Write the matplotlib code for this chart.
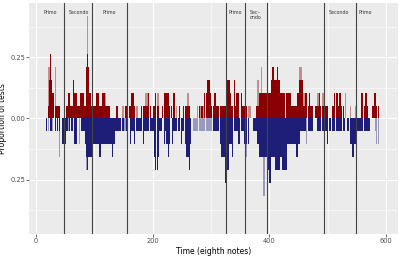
import matplotlib.pyplot as plt
import numpy as np

# number of tests per eighth-note position (out of 19), as runs: (start, end, count)
# a position takes the largest count of the runs covering it
primo_runs = [
    (19, 41, 1), (23, 27, 3), (25, 26, 5), (27, 31, 2),
    (51, 96, 1), (55, 59, 2), (63, 65, 3), (64, 70, 2), (75, 82, 2), (77, 78, 3),
    (86, 91, 4), (88, 89, 5), (91, 95, 2),
    (98, 127, 1), (104, 109, 2), (113, 118, 2), (138, 141, 1),
    (153, 164, 1), (164, 169, 2), (169, 172, 1), (180, 185, 1), (186, 198, 1),
    (192, 196, 2), (201, 212, 1), (204, 208, 2), (217, 233, 1), (218, 223, 2),
    (224, 228, 2), (235, 239, 2), (245, 248, 1), (252, 264, 1),
    (280, 282, 1), (284, 287, 1), (289, 300, 2), (293, 299, 3),
    (300, 323, 1), (302, 304, 2), (306, 309, 2),
    (323, 343, 1), (326, 334, 2), (327, 333, 3), (340, 341, 3),
    (343, 349, 2), (350, 354, 2), (354, 363, 1),
    (377, 383, 1), (383, 403, 2), (403, 410, 3), (405, 409, 4),
    (410, 420, 2), (411, 418, 3), (414, 416, 4), (420, 428, 2), (429, 437, 2),
    (437, 448, 1), (448, 454, 2), (452, 458, 3),
    (458, 475, 1), (461, 465, 2), (468, 471, 2),
    (479, 494, 1), (485, 487, 2), (494, 503, 1),
    (508, 528, 1), (512, 518, 2), (520, 524, 2),
    (558, 569, 1), (558, 561, 2), (565, 568, 2), (577, 588, 1), (580, 584, 2),
]
primo_faint_runs = [
    (20, 24, 4), (32, 35, 4), (88, 90, 8), (118, 121, 2),
    (146, 152, 1), (172, 175, 1), (188, 192, 2), (208, 212, 2), (228, 232, 1),
    (240, 244, 1), (260, 263, 2), (277, 279, 1), (280, 289, 1),
    (363, 369, 1), (380, 383, 3), (386, 388, 4), (452, 457, 4), (459, 461, 2),
    (483, 485, 2), (491, 494, 2), (530, 532, 2), (538, 540, 1), (548, 550, 1),
]
secondo_runs = [
    (17, 19, 1), (24, 27, 1), (31, 35, 1), (36, 38, 1), (39, 41, 1),
    (45, 51, 2), (51, 55, 1), (57, 59, 1), (61, 64, 1), (66, 70, 2), (72, 73, 1),
    (78, 84, 1), (84, 98, 2), (86, 97, 3), (88, 89, 4),
    (98, 135, 2), (108, 112, 3), (130, 133, 3), (135, 146, 1), (148, 152, 1),
    (155, 160, 1), (161, 168, 1), (162, 164, 2), (169, 172, 2), (172, 182, 1),
    (183, 186, 2), (186, 203, 1), (203, 212, 2), (203, 211, 3), (205, 209, 4),
    (212, 217, 1), (218, 221, 2), (221, 223, 1), (223, 232, 2), (226, 229, 3),
    (233, 235, 2), (236, 248, 1), (249, 251, 2), (251, 254, 1),
    (254, 268, 2), (257, 264, 3), (262, 264, 4),
    (303, 314, 1), (314, 332, 2), (317, 329, 3), (324, 327, 4), (328, 331, 4),
    (325, 326, 5), (332, 340, 2), (337, 339, 3), (340, 346, 1), (346, 352, 2),
    (352, 357, 1), (357, 366, 2),
    (373, 380, 1), (380, 451, 2), (383, 430, 3), (397, 401, 4), (400, 403, 5),
    (411, 419, 4), (423, 430, 4), (446, 449, 3),
    (451, 456, 1), (457, 463, 1), (465, 475, 1), (451, 453, 2),
    (483, 490, 1), (491, 506, 1), (500, 501, 2),
    (508, 531, 1), (511, 512, 2), (534, 575, 1), (537, 549, 2), (543, 546, 3),
]
secondo_faint_runs = [
    (20, 23, 1), (28, 30, 1), (40, 41, 3), (55, 57, 1), (74, 76, 2), (86, 90, 4),
    (146, 148, 1), (152, 155, 1), (269, 283, 1), (282, 302, 1), (288, 294, 1),
    (361, 363, 3), (390, 393, 6), (456, 457, 1), (463, 465, 2), (582, 588, 1),
    (584, 588, 2),
]
n_tests = 19

section_bounds = [48, 96, 156, 325, 359, 396, 493, 548]
section_names = ["Primo", "Secondo", "Primo", "Primo", "Sec–\nondo", "Secondo", "Primo"]
section_label_x = [25, 73, 126, 342, 376, 520, 564]

time = np.arange(0, 600)


def expand(runs):
    h = np.zeros(len(time))
    for a, b, lv in runs:
        h[a:b] = np.maximum(h[a:b], lv)
    return h / n_tests


red = "#8B0000"
blue = "#1E1E78"

fig = plt.figure(figsize=(3.99, 2.56), dpi=100)
ax = fig.add_axes([0.0734, 0.0848, 0.924, 0.905])
ax.set_facecolor("#EBEBEB")
ax.set_axisbelow(True)

ax.bar(time, expand(primo_faint_runs), width=0.9, color=red, alpha=0.4, linewidth=0)
ax.bar(time, expand(primo_runs), width=0.9, color=red, linewidth=0)
ax.bar(time, -expand(secondo_faint_runs), width=0.9, color=blue, alpha=0.4, linewidth=0)
ax.bar(time, -expand(secondo_runs), width=0.9, color=blue, linewidth=0)

for b in section_bounds:
    ax.axvline(b, color="#444444", lw=0.8)
for name, x in zip(section_names, section_label_x):
    ax.text(x, 0.445, name, ha="center", va="top", fontsize=3.4, color="#333333",
            linespacing=1.0)

ax.set_xlim(-11.7, 620.6)
ax.set_ylim(-0.474, 0.474)
ax.set_xticks([0, 200, 400, 600])
ax.set_xticks([100, 300, 500], minor=True)
ax.set_yticks([-0.25, 0, 0.25])
ax.set_yticklabels(["0.25", "0.00", "0.25"])
ax.set_yticks([-0.375, -0.125, 0.125, 0.375], minor=True)
ax.grid(which="major", color="white", lw=0.8)
ax.grid(which="minor", color="white", lw=0.4)
for s in ax.spines.values():
    s.set_visible(False)
ax.tick_params(which="major", length=2, width=0.5, color="#333333", labelsize=4.8,
               labelcolor="#4D4D4D", pad=1)
ax.tick_params(which="minor", length=0)

ax.set_xlabel("Time (eighth notes)", fontsize=5.5, labelpad=2)
ax.set_ylabel("Proportion of tests", fontsize=5.5, labelpad=2)

fig.savefig("out.png", dpi=100)
